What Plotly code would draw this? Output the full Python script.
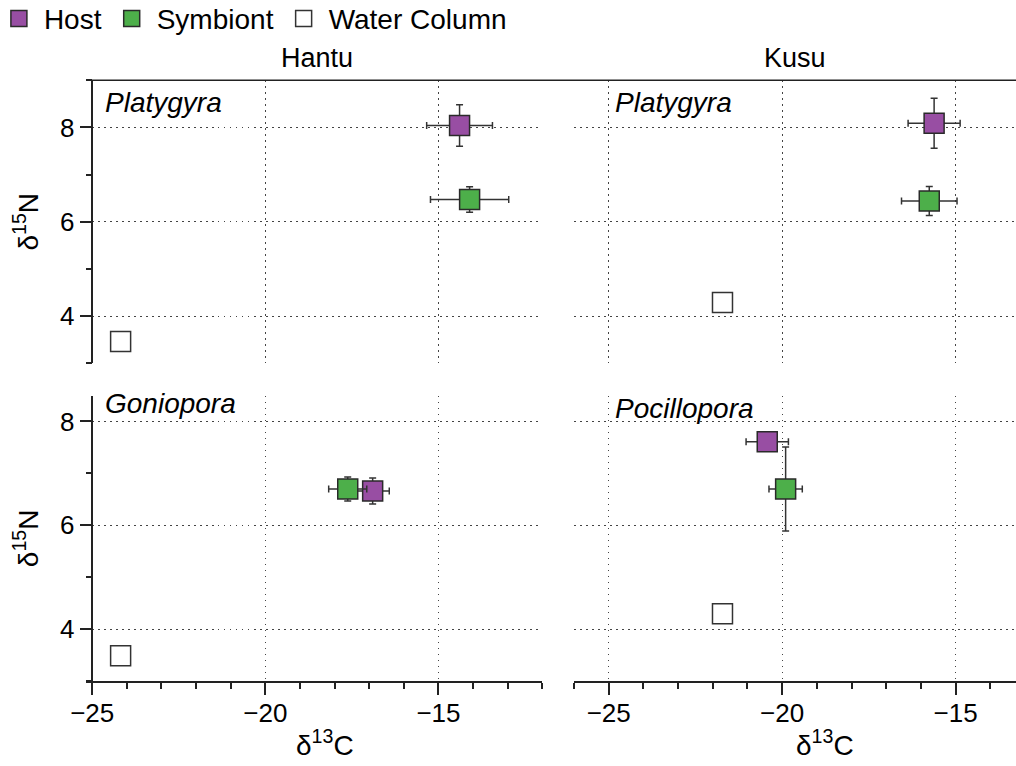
import plotly.graph_objects as go

# Panels: 0 = Hantu/Platygyra, 1 = Kusu/Platygyra, 2 = Hantu/Goniopora, 3 = Kusu/Pocillopora
sites = ["Hantu", "Kusu"]
panel_species = ["Platygyra", "Platygyra", "Goniopora", "Pocillopora"]

host_x = [-14.39, -15.62, -16.90, -20.43]
host_y = [8.04, 8.09, 6.66, 7.61]
host_xerr = [0.95, 0.75, 0.48, 0.61]
host_yerr = [0.44, 0.53, 0.25, 0.10]

sym_x = [-14.10, -15.76, -17.62, -19.90]
sym_y = [6.47, 6.44, 6.70, 6.70]
sym_xerr = [1.13, 0.80, 0.55, 0.48]
sym_yerr = [0.27, 0.31, 0.23, 0.81]

water_x = [-24.18, -21.72, -24.18, -21.72]
water_y = [3.46, 4.29, 3.49, 4.30]

x_tick_labels = [-25, -20, -15]
y_tick_labels = [4, 6, 8]

FONT = "Liberation Sans, Arial, Helvetica, sans-serif"
W, H = 1016, 766
AX = "#222222"
GRID = "#444444"

axes_of_panel = [("x3", "y3"), ("x4", "y4"), ("x", "y"), ("x2", "y2")]

series = [
    ("Host", host_x, host_y, host_xerr, host_yerr, "#984EA3", "#2a2a2a"),
    ("Symbiont", sym_x, sym_y, sym_xerr, sym_yerr, "#4DAF4A", "#2a2a2a"),
    ("Water Column", water_x, water_y, None, None, "#FFFFFF", "#333333"),
]

fig = go.Figure()
for name, xs, ys, xe, ye, fill, edge in series:
    for p in range(4):
        xa, ya = axes_of_panel[p]
        kw = {}
        if xe is not None:
            kw["error_x"] = dict(type="data", array=[xe[p]], color="#333333", thickness=1.5, width=3.5)
            kw["error_y"] = dict(type="data", array=[ye[p]], color="#333333", thickness=1.5, width=3.5)
        fig.add_trace(go.Scatter(
            x=[xs[p]], y=[ys[p]], mode="markers", name=name,
            legendgroup=name, showlegend=(p == 0),
            xaxis=xa, yaxis=ya,
            marker=dict(symbol="square", size=20, color=fill, line=dict(color=edge, width=1.5)),
            **kw))

def px_x(v):
    return v / W

def px_y(v):
    return 1 - v / H

dom_L = [px_x(86), px_x(542.3)]
dom_R = [px_x(574), 1.0]
dom_T = [px_y(363.2), px_y(80.3)]
dom_B = [px_y(681.2), px_y(395.5)]
rng_L = [-25.18, -12]
rng_R = [-26, -13.26]

tickfont = dict(family=FONT, size=26, color="black")
titlefont = dict(family=FONT, size=28, color="black")
grid = dict(showgrid=True, gridcolor=GRID, gridwidth=1.2, griddash="1.5px,4.5px")
minor = dict(ticks="outside", ticklen=6, tickwidth=1.5, tickcolor=AX, dtick=1, tick0=0, showgrid=False)

def xax(domain, rng, anchor, labels):
    d = dict(domain=domain, range=rng, anchor=anchor, zeroline=False, automargin=False,
             tickmode="linear", tick0=x_tick_labels[0], dtick=x_tick_labels[1] - x_tick_labels[0],
             tickfont=tickfont, **grid)
    if labels:
        d.update(showline=True, linecolor=AX, linewidth=1.5, ticks="outside", ticklen=12,
                 tickwidth=1.5, tickcolor=AX, minor=minor, ticklabelstandoff=-4)
    else:
        d.update(showline=False, ticks="", showticklabels=False)
    return d

def yax(domain, rng, anchor, labels, position=None):
    d = dict(domain=domain, range=rng, anchor=anchor, zeroline=False, automargin=False,
             tickmode="linear", tick0=y_tick_labels[0], dtick=y_tick_labels[1] - y_tick_labels[0],
             tickfont=tickfont, **grid)
    if position is not None:
        d["position"] = position
    if labels:
        d.update(showline=True, linecolor=AX, linewidth=1.5, ticks="outside", ticklen=12,
                 tickwidth=1.5, tickcolor=AX, minor=minor,
                 title=dict(text="δ<sup>15</sup>N", font=titlefont, standoff=12))
    else:
        d.update(showline=False, ticks="", showticklabels=False)
    return d

ypos = px_x(92.3)
fig.update_layout(
    width=W, height=H,
    margin=dict(l=0, r=0, t=0, b=0, autoexpand=False),
    paper_bgcolor="white", plot_bgcolor="white",
    font=dict(family=FONT, size=26, color="black"),
    xaxis=xax(dom_L, rng_L, "y", True),
    yaxis=yax(dom_B, [3, 8.5], "free", True, ypos),
    xaxis2=xax(dom_R, rng_R, "y2", True),
    yaxis2=yax(dom_B, [3, 8.5], "x2", False),
    xaxis3=xax(dom_L, rng_L, "y3", False),
    yaxis3=yax(dom_T, [3, 9], "free", True, ypos),
    xaxis4=xax(dom_R, rng_R, "y4", False),
    yaxis4=yax(dom_T, [3, 9], "x4", False),
    showlegend=True,
    legend=dict(orientation="h", x=-0.006, y=1.008, xanchor="left", yanchor="top",
                font=dict(family=FONT, size=28, color="black"),
                bgcolor="rgba(0,0,0,0)", itemsizing="trace", itemwidth=40, tracegroupgap=0),
)

# top frame line across both upper panels
fig.add_shape(type="line", xref="paper", yref="paper", x0=px_x(86), x1=1.0,
              y0=px_y(80.3), y1=px_y(80.3), line=dict(color=AX, width=1.5))

# column titles
for i, s in enumerate(sites):
    dom = dom_L if i == 0 else dom_R
    cx = (px_x(92.3) + dom[1]) / 2 if i == 0 else (dom[0] + dom[1]) / 2
    fig.add_annotation(text=s, xref="paper", yref="paper", x=cx, y=px_y(58),
                       xanchor="center", yanchor="middle", showarrow=False,
                       font=dict(family=FONT, size=27, color="black"))

# x-axis titles (one under each column)
for cx in (325, 825):
    fig.add_annotation(text="δ<sup>13</sup>C", xref="paper", yref="paper",
                       x=px_x(cx), y=px_y(743), xanchor="center", yanchor="middle",
                       showarrow=False, font=titlefont)

# panel labels
label_pos = [(103, 103), (613, 103), (103, 403), (613, 408)]
for p, sp in enumerate(panel_species):
    lx, ly = label_pos[p]
    fig.add_annotation(text="<i>%s</i>" % sp, xref="paper", yref="paper",
                       x=px_x(lx), y=px_y(ly), xanchor="left", yanchor="middle",
                       showarrow=False, font=dict(family=FONT, size=28, color="black"))

fig.write_html("out.html")
